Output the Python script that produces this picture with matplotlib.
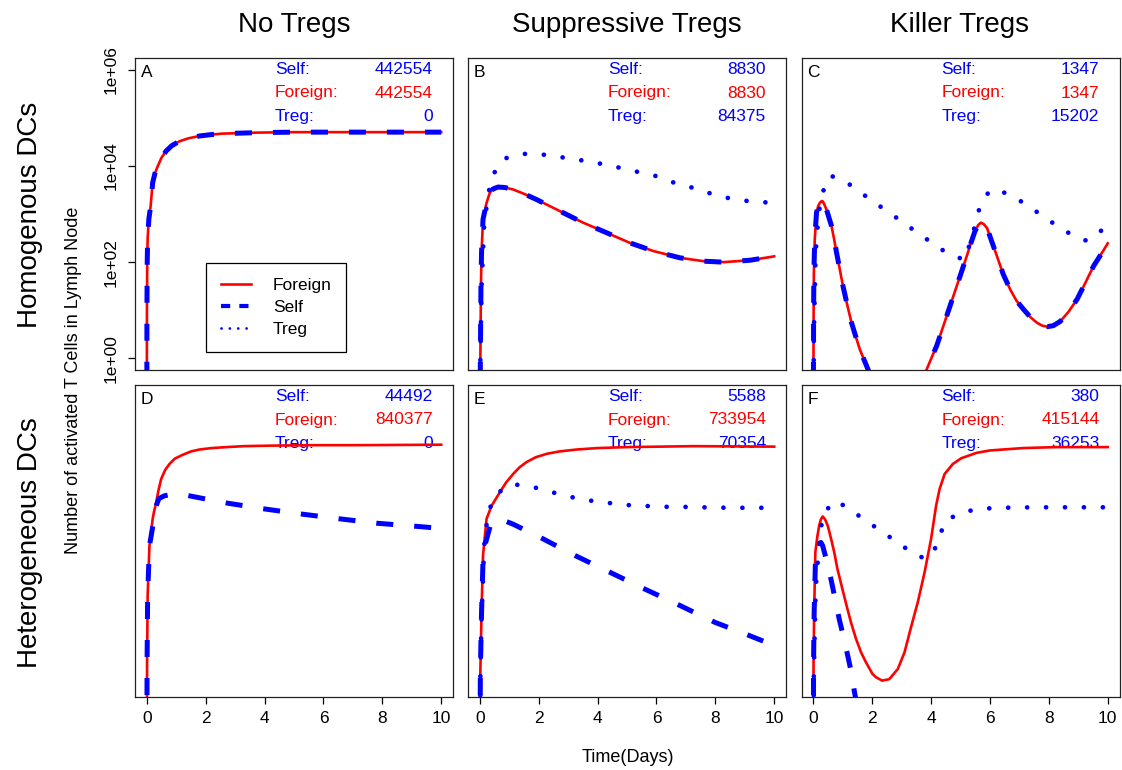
import matplotlib
matplotlib.use("Agg")
import matplotlib.pyplot as plt
import numpy as np
from matplotlib.lines import Line2D

plt.rcParams['font.family'] = ['Liberation Sans', 'DejaVu Sans']

# ---- data ----
# curve values are given as log10(cell count); -2 means below the axis
col_titles = ['No Tregs', 'Suppressive Tregs', 'Killer Tregs']
row_titles = ['Homogenous DCs', 'Heterogeneous DCs']
panel_letters = ['A', 'B', 'C', 'D', 'E', 'F']

self_totals = [442554, 8830, 1347, 44492, 5588, 380]
foreign_totals = [442554, 8830, 1347, 840377, 733954, 415144]
treg_totals = [0, 84375, 15202, 0, 70354, 36253]

# A: no Tregs, homogenous DCs (self == foreign)
A_t = [0, 0.005, 0.015, 0.03, 0.07, 0.13, 0.2, 0.28, 0.37, 0.5, 0.66, 0.85,
       1.11, 1.4, 1.79, 2.2, 2.59, 3.2, 3.72, 5, 6.5, 8, 10]
A_foreign = [-2, 1.0, 2.0, 2.5, 2.89, 3.16, 3.65, 3.85, 3.99, 4.17, 4.31, 4.42,
             4.51, 4.57, 4.62, 4.65, 4.67, 4.68, 4.69, 4.70, 4.70, 4.70, 4.70]
A_self = A_foreign

# B: suppressive Tregs, homogenous DCs (self == foreign)
B_t = [0, 0.02, 0.04, 0.06, 0.11, 0.23, 0.34, 0.45, 0.62, 0.85, 1.13, 1.5,
       1.93, 2.72, 3.51, 4.31, 5.1, 5.9, 6.8, 7.6, 8.28, 9.18, 10]
B_foreign = [-2, 0, 1.5, 2.2, 2.89, 3.23, 3.44, 3.52, 3.56, 3.55, 3.51, 3.42,
             3.30, 3.06, 2.82, 2.61, 2.40, 2.23, 2.09, 2.02, 2.00, 2.04, 2.12]
B_self = B_foreign
B_treg_t = [0, 0.02, 0.06, 0.15, 0.3, 0.45, 0.83, 1.44, 2.07, 2.76, 3.4, 4.06,
            4.68, 5.33, 5.97, 6.55, 7.2, 7.82, 8.45, 9.09, 9.75, 10]
B_treg = [-2, 0, 1.5, 2.8, 3.45, 3.82, 4.15, 4.25, 4.24, 4.18, 4.12, 4.05,
          3.97, 3.88, 3.79, 3.66, 3.55, 3.43, 3.33, 3.27, 3.24, 3.23]

# C: killer Tregs, homogenous DCs (self == foreign)
C_t = [0, 0.01, 0.02, 0.05, 0.11, 0.17, 0.22, 0.27, 0.31, 0.36, 0.45, 0.53,
       0.62, 0.7, 0.79, 0.9, 1.01, 1.15, 1.3, 1.44, 1.58, 1.72, 1.86, 2.3,
       2.9, 3.4, 3.85, 4.02, 4.19, 4.36, 4.53, 4.7, 4.87, 5.04, 5.21, 5.35,
       5.49, 5.6, 5.69, 5.79, 5.9, 6.05, 6.24, 6.45, 6.69, 6.9, 7.14, 7.37,
       7.6, 7.78, 7.94, 8.15, 8.39, 8.67, 8.96, 9.24, 9.52, 9.78, 10]
C_foreign = [-2, 0.8, 1.78, 2.47, 3.03, 3.17, 3.23, 3.26, 3.27, 3.22, 3.09,
             2.93, 2.75, 2.5, 2.2, 1.85, 1.5, 1.12, 0.74, 0.46, 0.19, -0.02,
             -0.23, -0.9, -1.3, -0.9, -0.23, 0.02, 0.26, 0.57, 0.88, 1.19, 1.5,
             1.81, 2.12, 2.39, 2.64, 2.77, 2.82, 2.79, 2.71, 2.45, 2.12, 1.75,
             1.43, 1.2, 1.02, 0.86, 0.74, 0.68, 0.66, 0.68, 0.77, 0.97, 1.23,
             1.57, 1.92, 2.17, 2.39]
C_self = C_foreign
C_treg_t = [0, 0.02, 0.08, 0.18, 0.31, 0.58, 1.15, 1.69, 2.22, 2.74, 3.31,
            3.82, 4.36, 4.95, 5.15, 5.4, 5.66, 6.0, 6.6, 7.17, 7.72, 8.24,
            8.8, 9.3, 9.88, 10]
C_treg = [-2, 0.5, 2.2, 3.0, 3.44, 3.80, 3.65, 3.41, 3.18, 2.96, 2.71, 2.49,
          2.26, 2.09, 2.05, 2.55, 3.16, 3.50, 3.43, 3.22, 2.99, 2.77, 2.56,
          2.44, 2.70, 2.78]

# D: no Tregs, heterogeneous DCs
D_t = [0, 0.01, 0.03, 0.09, 0.2, 0.25, 0.32, 0.4, 0.49, 0.62, 0.77, 0.95,
       1.22, 1.5, 1.79, 2.2, 2.7, 3.3, 4.17, 5.5, 7.0, 10]
D_foreign = [-2, 0.5, 1.87, 2.9, 3.46, 3.62, 3.8, 4.06, 4.29, 4.47, 4.6, 4.71,
             4.79, 4.86, 4.9, 4.93, 4.95, 4.97, 4.98, 4.99, 4.99, 5.0]
D_self_t = [0, 0.01, 0.03, 0.09, 0.15, 0.32, 0.41, 0.6, 0.85, 1.11, 1.68, 2.7,
            3.95, 5.25, 6.56, 7.8, 9.45, 10]
D_self = [-2, 0.5, 1.87, 2.9, 3.11, 3.73, 3.88, 3.94, 3.97, 3.98, 3.91, 3.79,
          3.67, 3.56, 3.46, 3.37, 3.29, 3.26]

# E: suppressive Tregs, heterogeneous DCs
E_t = [0, 0.02, 0.06, 0.11, 0.23, 0.4, 0.68, 0.9, 1.13, 1.35, 1.59, 1.9,
       2.27, 2.7, 3.29, 4.0, 4.99, 7.26, 10]
E_foreign = [-2, 0.3, 1.52, 2.7, 3.46, 3.73, 4.01, 4.22, 4.39, 4.53, 4.64,
             4.74, 4.81, 4.86, 4.90, 4.93, 4.95, 4.97, 4.96]
E_self_t = [0, 0.02, 0.06, 0.11, 0.17, 0.35, 0.5, 0.68, 1.13, 2.1, 3.23, 4.42,
            5.61, 6.8, 7.99, 9.18, 10]
E_self = [-2, 0.3, 1.52, 2.6, 2.9, 3.3, 3.43, 3.46, 3.35, 3.06, 2.70, 2.35,
          2.0, 1.66, 1.31, 1.03, 0.83]
E_treg_t = [0, 0.02, 0.06, 0.15, 0.28, 0.57, 1.07, 1.7, 2.35, 2.97, 3.61, 4.25,
            4.91, 5.55, 6.21, 6.86, 7.5, 8.5, 9.49, 10]
E_treg = [-2, 0.2, 1.4, 2.9, 3.6, 3.98, 4.18, 4.14, 4.03, 3.93, 3.85, 3.80,
          3.75, 3.73, 3.71, 3.71, 3.70, 3.69, 3.69, 3.69]

# F: killer Tregs, heterogeneous DCs
F_t = [0, 0.01, 0.03, 0.07, 0.14, 0.2, 0.26, 0.32, 0.4, 0.49, 0.55, 0.63,
       0.71, 0.82, 0.99, 1.13, 1.28, 1.45, 1.62, 1.79, 2.01, 2.13, 2.34, 2.58,
       2.87, 3.1, 3.32, 3.55, 3.78, 4.0, 4.17, 4.29, 4.46, 4.74, 5.03, 5.54,
       5.99, 7.12, 8.25, 10]
F_foreign = [-2, 0.5, 1.52, 2.77, 3.1, 3.32, 3.45, 3.51, 3.45, 3.32, 3.18,
             2.98, 2.77, 2.42, 2.0, 1.66, 1.31, 0.97, 0.69, 0.48, 0.24, 0.17,
             0.10, 0.13, 0.34, 0.69, 1.21, 1.73, 2.35, 3.04, 3.73, 4.08, 4.39,
             4.6, 4.72, 4.83, 4.88, 4.93, 4.95, 4.95]
F_self_t = [0, 0.01, 0.03, 0.07, 0.15, 0.2, 0.26, 0.32, 0.45, 0.6, 0.74, 0.88,
            1.03, 1.17, 1.3, 1.4, 1.6, 2.0]
F_self = [-2, 0.5, 1.52, 2.5, 2.9, 2.95, 2.97, 2.9, 2.6, 2.21, 1.8, 1.38,
          1.0, 0.62, 0.25, -0.14, -0.8, -2]
F_treg_t = [0, 0.02, 0.08, 0.23, 0.37, 0.77, 1.3, 1.84, 2.39, 2.93, 3.47, 3.75,
            4.04, 4.27, 4.48, 5.06, 5.7, 6.35, 7.5, 8.6, 9.63, 10]
F_treg = [-2, 0.3, 2.0, 3.19, 3.6, 3.84, 3.63, 3.4, 3.17, 2.94, 2.71, 2.65,
          2.7, 3.06, 3.42, 3.6, 3.67, 3.69, 3.70, 3.70, 3.70, 3.70]

panels = [
    (A_t, A_foreign, A_t, A_self, None, None),
    (B_t, B_foreign, B_t, B_self, B_treg_t, B_treg),
    (C_t, C_foreign, C_t, C_self, C_treg_t, C_treg),
    (D_t, D_foreign, D_self_t, D_self, None, None),
    (E_t, E_foreign, E_self_t, E_self, E_treg_t, E_treg),
    (F_t, F_foreign, F_self_t, F_self, F_treg_t, F_treg),
]


def counts(log_vals):
    return 10.0 ** np.asarray(log_vals, dtype=float)


# ---- figure ----
W, H = 1122, 770
fig = plt.figure(figsize=(W / 100, H / 100), dpi=100)
col_left = [135, 468, 801.5]
row_top = [58, 385]
pw, ph = 318, 312

axes = []
for i, (ft, fv, st, sv, tt, tv) in enumerate(panels):
    r, c = divmod(i, 3)
    ax = fig.add_axes([col_left[c] / W, (H - row_top[r] - ph) / H, pw / W, ph / H])
    axes.append(ax)
    ax.set_yscale('log')
    ax.set_xlim(-0.4, 10.4)
    ax.set_ylim(10 ** -0.24, 10 ** 6.24)
    ax.minorticks_off()

    # text first so the curves are drawn over it
    kw = dict(transform=ax.transAxes, fontsize=12.5, zorder=1, va='center')
    ys = [1 - 11.5 / ph, 1 - 35 / ph, 1 - 58.5 / ph]
    ax.text(0.44, ys[0], 'Self:', color='blue', ha='left', **kw)
    ax.text(0.937, ys[0], str(self_totals[i]), color='blue', ha='right', **kw)
    ax.text(0.44, ys[1], 'Foreign:', color='red', ha='left', **kw)
    ax.text(0.937, ys[1], str(foreign_totals[i]), color='red', ha='right', **kw)
    ax.text(0.44, ys[2], 'Treg:', color='blue', ha='left', **kw)
    ax.text(0.937, ys[2], str(treg_totals[i]), color='blue', ha='right', **kw)
    ax.text(6 / pw, 1 - 7 / ph, panel_letters[i], transform=ax.transAxes,
            fontsize=12.5, ha='left', va='top', zorder=1)

    ax.plot(ft, counts(fv), color='red', lw=1.9, zorder=2)
    ax.plot(st, counts(sv), color='blue', lw=3.6, linestyle=(0, (3.4, 4.2)),
            dash_capstyle='butt', zorder=3)
    if tt is not None:
        ax.plot(tt, counts(tv), color='blue', lw=3.4, linestyle=(0, (0.01, 4.0)),
                dash_capstyle='round', zorder=4)

    for s in ax.spines.values():
        s.set_linewidth(0.9)
        s.set_color('#222222')

    if r == 0:
        ax.set_xticks([])
    else:
        ax.set_xticks([0, 2, 4, 6, 8, 10])
        ax.set_xticklabels(['0', '2', '4', '6', '8', '10'])
        ax.tick_params(axis='x', direction='out', length=5, width=0.9,
                       labelsize=12.5, pad=5)
    if i == 0:
        ax.set_yticks([1, 1e2, 1e4, 1e6])
        ax.set_yticklabels(['1e+00', '1e+02', '1e+04', '1e+06'],
                           rotation=90, va='center')
        ax.tick_params(axis='y', direction='out', length=5, width=0.9,
                       labelsize=12.5, pad=7)
    else:
        ax.set_yticks([])

# legend in panel A
handles = [
    Line2D([], [], color='red', lw=1.9),
    Line2D([], [], color='blue', lw=3, linestyle=(0, (2.2, 2.2))),
    Line2D([], [], color='blue', lw=2, linestyle=(0, (0.01, 3)),
           dash_capstyle='round'),
]
leg = axes[0].legend(handles, ['Foreign', 'Self', 'Treg'], loc='upper left',
                     bbox_to_anchor=((206 - 135) / pw, (370 - 262.7) / ph),
                     borderaxespad=0, fontsize=12.5, frameon=True,
                     fancybox=False, edgecolor='black', framealpha=1,
                     handlelength=1.75, handletextpad=1.25,
                     labelspacing=0.4, borderpad=0.85)
leg.get_frame().set_linewidth(0.9)

# outer labels
col_cx = [294, 627, 959]
for cx, t in zip(col_cx, col_titles):
    fig.text(cx / W, 1 - 25 / H, t, ha='center', va='center', fontsize=20)
fig.text(30 / W, 1 - 215 / H, row_titles[0], rotation=90, ha='center',
         va='center', fontsize=20)
fig.text(30 / W, 1 - 543 / H, row_titles[1], rotation=90, ha='center',
         va='center', fontsize=20)
fig.text(74 / W, 1 - 380 / H, 'Number of activated T Cells in Lymph Node',
         rotation=90, ha='center', va='center', fontsize=13)
fig.text(628 / W, 1 - 757 / H, 'Time(Days)', ha='center', va='center',
         fontsize=13)

fig.savefig('out.png', dpi=100)
